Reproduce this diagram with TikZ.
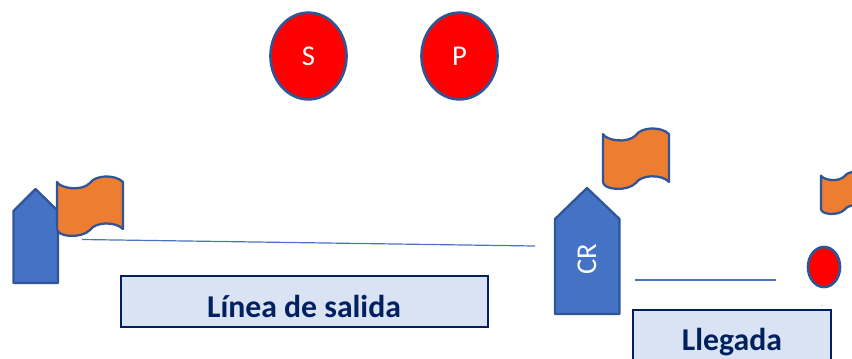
\documentclass[tikz,border=0pt]{standalone}
\usepackage{fontspec}
\setmainfont{Carlito}
\usetikzlibrary{shapes.geometric}
\definecolor{edgeblue}{HTML}{2F5597}
\definecolor{fillblue}{HTML}{4472C4}
\definecolor{flagorange}{HTML}{ED7D31}
\definecolor{labelfill}{HTML}{DAE3F3}
\definecolor{labelink}{HTML}{002060}
\definecolor{lineblue}{HTML}{4A72C0}
\tikzset{
  x=0.75pt,y=-0.75pt,
  disc/.style={ellipse,draw=edgeblue,line width=2pt,fill=red,text=white,inner sep=0pt,font=\fontsize{21.5}{24}\selectfont},
  house/.style={draw=edgeblue,line width=1.7pt,fill=fillblue,line join=round},
  banner/.style={draw=edgeblue,line width=1.7pt,fill=flagorange,line join=round},
  labelbox/.style={rectangle,draw=labelink,line width=1.5pt,fill=labelfill,inner sep=0pt,anchor=north west},
  labeltext/.style={text=labelink,font=\bfseries\fontsize{23.8}{28}\selectfont},
  track/.style={draw=lineblue,line width=0.9pt},
}
\newcommand{\flagshape}[5]{% x y w h style
  \begin{scope}[shift={(#1,#2)},xscale=#3/66,yscale=#4/59]
    \draw[#5] (0,5) .. controls (3,11) and (24,15) .. (33,6)
      .. controls (38,-2) and (58,-3) .. (66,5)
      -- (66,52) .. controls (58,44) and (38,45) .. (33,53)
      .. controls (24,62) and (0,60) .. (0,52) -- cycle;
  \end{scope}}
\begin{document}
\begin{tikzpicture}
\useasboundingbox (0,0) rectangle (852,358);
\clip (0,0) rectangle (852,358);
\node[disc,minimum width=57pt,minimum height=65pt] (s) at (308.5,56) {S};
\node[disc,minimum width=57pt,minimum height=65pt] (p) at (459.5,56) {P};
% left marker
\draw[house] (13.5,211) -- (35.5,189) -- (58,211) -- (58,283) -- (13.5,283) -- cycle;
\flagshape{57}{177}{66}{59}{banner}
% middle marker
\draw[house] (555,219) -- (587,188) -- (619.5,219) -- (619.5,314) -- (555,314) -- cycle;
\node[rotate=90,text=white,font=\fontsize{21.5}{24}\selectfont] (cr) at (587,259) {CR};
\flagshape{603}{129}{66}{60}{banner}
% right marker
\flagshape{821}{172}{47}{42}{banner}
\node[disc,minimum width=24pt,minimum height=30pt] (dot) at (824,267) {};
% lines
\coordinate (a1) at (82,239.5);
\coordinate (a2) at (535,246);
\coordinate (b1) at (635,280);
\coordinate (b2) at (776,280);
\draw[track] (a1) -- (a2);
\draw[track] (b1) -- (b2);
% labels
\node[labelbox,minimum width=275.5pt,minimum height=38.5pt] (salida) at (120,275) {};
\node[labeltext] (salidat) at (304,306.5) {Línea de salida};
\node[labelbox,minimum width=148.5pt,minimum height=45pt] (llegada) at (631.5,309) {};
\node[labeltext] (llegadat) at (732,342) {Llegada};
\fill[lineblue!60] (822,305.5) circle (0.5pt);
\end{tikzpicture}
\end{document}
